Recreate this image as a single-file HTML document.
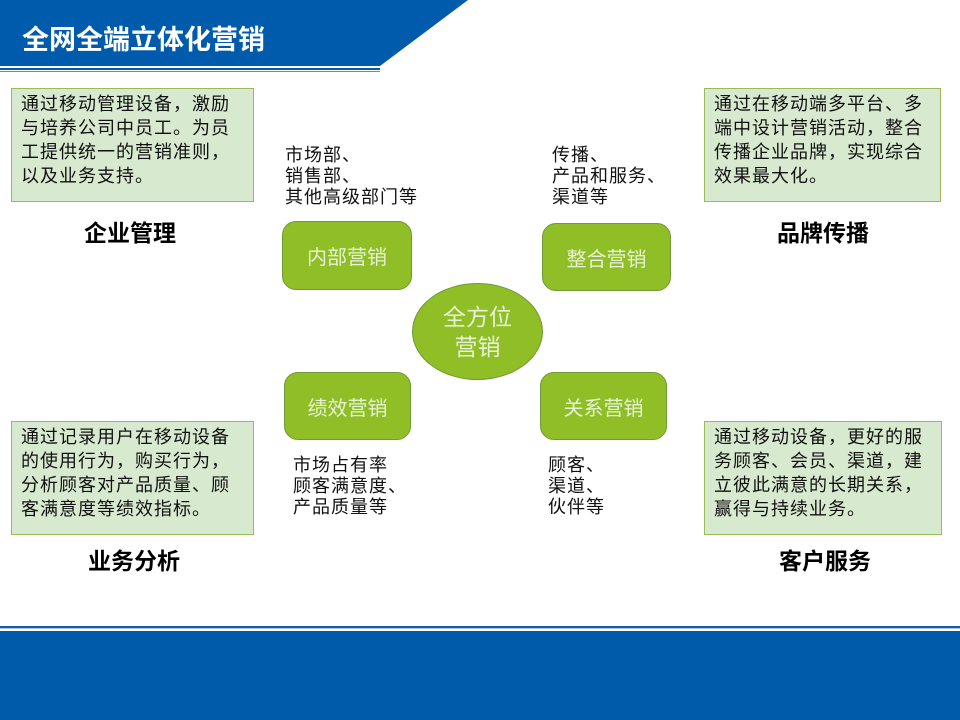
<!DOCTYPE html>
<html><head><meta charset="utf-8"><style>
*{margin:0;padding:0;box-sizing:border-box}
body{width:960px;height:720px;position:relative;background:#fff;font-family:"Liberation Sans","Noto Sans CJK SC",sans-serif;overflow:hidden}
.a{position:absolute}
.tb{position:absolute;background:#d7e9cf;border:1px solid #9bbb59;font-size:18px;line-height:24px;color:#111;padding:3px 9px;white-space:nowrap;letter-spacing:1px}
.h{position:absolute;font-size:23px;font-weight:bold;color:#000}
.g{position:absolute;background:#8fbe27;border:1.5px solid #6f9a35;border-radius:14px;color:#e8f2d6;font-size:20px;display:flex;align-items:center;justify-content:center}
.l{position:absolute;font-size:18px;line-height:21px;color:#111;white-space:nowrap;letter-spacing:1px}
</style></head><body>
<svg class="a" style="left:0;top:0" width="960" height="80">
<polygon points="0,0 468,0 380,66 0,66" fill="#005bac"/>
<rect x="0" y="68" width="380" height="2" fill="#005bac"/>
<rect x="0" y="71" width="380" height="1" fill="#5a8fcf"/>
</svg>
<div class="a" style="left:22px;top:18px;font-size:27px;font-weight:bold;color:#fff">全网全端立体化营销</div>
<div class="a" style="left:0;top:626px;width:960px;height:2px;background:#1c5aa0"></div>
<div class="a" style="left:0;top:628px;width:960px;height:1px;background:#9fc4e8"></div>
<div class="a" style="left:0;top:631px;width:960px;height:89px;background:#005bab"></div>

<div class="tb" style="left:11px;top:88px;width:243px;height:114px">通过移动管理设备，激励<br>与培养公司中员工。为员<br>工提供统一的营销准则，<br>以及业务支持。</div>
<div class="tb" style="left:704px;top:88px;width:237px;height:114px">通过在移动端多平台、多<br>端中设计营销活动，整合<br>传播企业品牌，实现综合<br>效果最大化。</div>
<div class="tb" style="left:11px;top:421px;width:243px;height:114px">通过记录用户在移动设备<br>的使用行为，购买行为，<br>分析顾客对产品质量、顾<br>客满意度等绩效指标。</div>
<div class="tb" style="left:704px;top:421px;width:238px;height:114px">通过移动设备，更好的服<br>务顾客、会员、渠道，建<br>立彼此满意的长期关系，<br>赢得与持续业务。</div>

<div class="h" style="left:84px;top:214px">企业管理</div>
<div class="h" style="left:777px;top:214px">品牌传播</div>
<div class="h" style="left:88px;top:542px">业务分析</div>
<div class="h" style="left:779px;top:542px">客户服务</div>

<div class="l" style="left:285px;top:145px">市场部、<br>销售部、<br>其他高级部门等</div>
<div class="l" style="left:552px;top:145px">传播、<br>产品和服务、<br>渠道等</div>
<div class="l" style="left:293px;top:455px">市场占有率<br>顾客满意度、<br>产品质量等</div>
<div class="l" style="left:548px;top:455px">顾客、<br>渠道、<br>伙伴等</div>

<div class="g" style="left:282px;top:221px;width:130px;height:69px">内部营销</div>
<div class="g" style="left:542px;top:223px;width:129px;height:68px">整合营销</div>
<div class="g" style="left:284px;top:372px;width:127px;height:68px">绩效营销</div>
<div class="g" style="left:540px;top:372px;width:127px;height:68px">关系营销</div>
<div class="g" style="left:412px;top:283px;width:131px;height:97px;border-radius:50%;font-size:23px;line-height:30px;text-align:center">全方位<br>营销</div>
</body></html>
